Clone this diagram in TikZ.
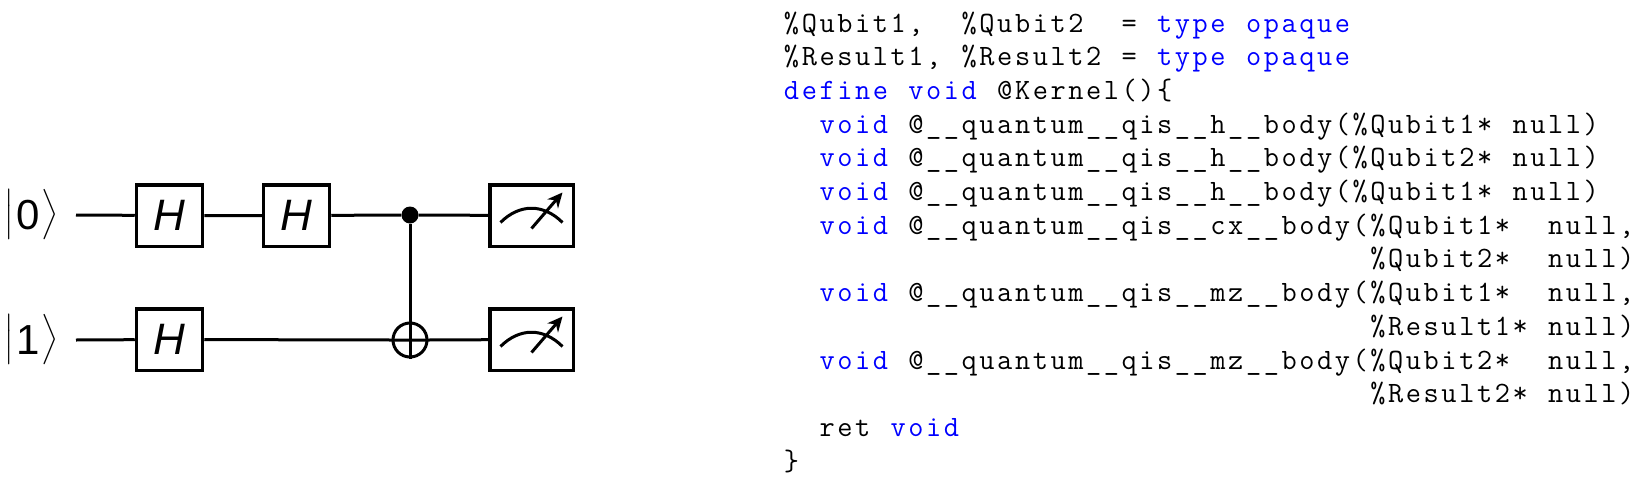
\documentclass[tikz,border=0pt]{standalone}
\usepackage{fontspec}
\usetikzlibrary{arrows.meta}
\setmainfont{Liberation Sans}
\newfontfamily\codefont{Latin Modern Mono}
\definecolor{kwblue}{RGB}{0,0,255}
% fixed-pitch setting: every character sits centred in a column
\def\CLend{CLend}\def\BLUE{blue}\def\BLACK{black}\def\curc{black}
\newlength{\colw}\setlength{\colw}{17.77pt}
\def\CLi#1{\ifx#1\CLend\let\CLn\relax\else
  \ifx#1\BLUE\def\curc{kwblue}\else
  \ifx#1\BLACK\def\curc{black}\else
  \makebox[\colw][c]{\color{\curc}#1}\fi\fi\let\CLn\CLi\fi\CLn}
\newcommand{\code}[1]{\CLi#1\CLend}
\newcommand{\ketbody}[1]{\raisebox{7.7pt}{\scalebox{2.8}{$\Big|$}}\kern3pt{\fontsize{42}{42}\selectfont #1}\kern2pt\raisebox{7.7pt}{\scalebox{2.8}{$\Big\rangle$}}}
\tikzset{
  x=1pt,y=-1pt,
  wire/.style={line width=3pt,line cap=butt},
  gatebox/.style={draw,line width=3.5pt,minimum width=66pt,minimum height=61.5pt,inner sep=0pt,font=\fontsize{44}{44}\selectfont\itshape},
  meterbox/.style={draw,line width=3.5pt,minimum width=83.5pt,minimum height=61.5pt,inner sep=0pt},
  ctrl/.style={circle,fill=black,draw=none,minimum size=17pt,inner sep=0pt},
  targ/.style={circle,draw,line width=3pt,minimum size=34pt,inner sep=0pt},
  ket/.style={inner sep=0pt,anchor=base west},
  codeline/.style={anchor=base west,inner sep=0pt,font=\fontsize{29.5}{33}\selectfont\codefont},
}
\newcommand{\meterdraw}[1]{%
  \draw[wire] ([shift={(-31,7)}]#1.center) .. controls ([shift={(-12,-12)}]#1.center) and ([shift={(12,-12)}]#1.center) .. ([shift={(31,7)}]#1.center);
  \draw[wire,-{Stealth[length=15pt,width=14pt]}] ([shift={(0,13)}]#1.center) -- ([shift={(31,-23)}]#1.center);
}
\begin{document}
\begin{tikzpicture}
\useasboundingbox (0,0) rectangle (1641,490);
\node[ket] (k0) at (4,229) {\ketbody{0}};
\node[ket] (k1) at (4,354) {\ketbody{1}};
\coordinate (s0) at (76,215);
\coordinate (s1) at (76,340);
\node[gatebox] (h1) at (169.5,215.5) {H};
\node[gatebox] (h2) at (296.5,215.5) {H};
\node[gatebox] (h3) at (169.5,339.5) {H};
\node[ctrl] (c) at (410,215) {};
\node[targ] (t) at (410,340) {};
\node[meterbox] (m1) at (531.5,215.5) {};
\node[meterbox] (m2) at (531.5,339.5) {};
\draw[wire] (s0) -- (h1) (h1) -- (h2) (h2) -- (c) (c) -- (m1);
\draw[wire] (s1) -- (h3) (h3) -- (t.west) (t.west) -- (t.east) (t.east) -- (m2);
\draw[wire] (c) -- (t.south);
\meterdraw{m1}
\meterdraw{m2}
\node[codeline] (l1) at (782.5,32) {\code{\%Qubit1,~~\%Qubit2~~=~\BLUE type~opaque\BLACK}};
\node[codeline] (l2) at (782.5,65.7) {\code{\%Result1,~\%Result2~=~\BLUE type~opaque\BLACK}};
\node[codeline] (l3) at (782.5,99.4) {\code{\BLUE define~void\BLACK~@Kernel()\{}};
\node[codeline] (l4) at (782.5,133.1) {\code{~~\BLUE void\BLACK~@\_\_quantum\_\_qis\_\_h\_\_body(\%Qubit1*~null)}};
\node[codeline] (l5) at (782.5,166.8) {\code{~~\BLUE void\BLACK~@\_\_quantum\_\_qis\_\_h\_\_body(\%Qubit2*~null)}};
\node[codeline] (l6) at (782.5,200.5) {\code{~~\BLUE void\BLACK~@\_\_quantum\_\_qis\_\_h\_\_body(\%Qubit1*~null)}};
\node[codeline] (l7) at (782.5,234.2) {\code{~~\BLUE void\BLACK~@\_\_quantum\_\_qis\_\_cx\_\_body(\%Qubit1*~~null,}};
\node[codeline] (l8) at (1368.9,267.9) {\code{\%Qubit2*~~null)}};
\node[codeline] (l9) at (782.5,301.6) {\code{~~\BLUE void\BLACK~@\_\_quantum\_\_qis\_\_mz\_\_body(\%Qubit1*~~null,}};
\node[codeline] (l10) at (1368.9,335.3) {\code{\%Result1*~null)}};
\node[codeline] (l11) at (782.5,369) {\code{~~\BLUE void\BLACK~@\_\_quantum\_\_qis\_\_mz\_\_body(\%Qubit2*~~null,}};
\node[codeline] (l12) at (1368.9,402.7) {\code{\%Result2*~null)}};
\node[codeline] (l13) at (782.5,436.4) {\code{~~ret~\BLUE void\BLACK}};
\node[codeline] (l14) at (782.5,470.1) {\code{\}}};
\end{tikzpicture}
\end{document}
